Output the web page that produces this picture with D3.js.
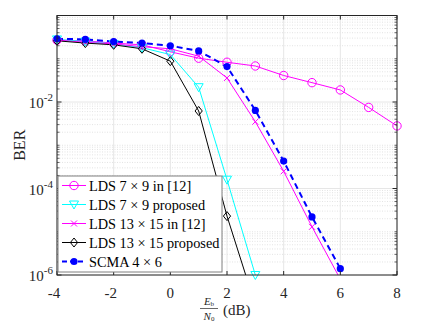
<!DOCTYPE html>
<html><head><meta charset="utf-8">
<script src="https://cdn.jsdelivr.net/npm/d3@7"></script>
<style>body{margin:0;background:#fff}svg{display:block}</style>
</head><body><svg id="c" width="440" height="323" font-family="'Liberation Serif', 'Times New Roman', Times, 'DejaVu Serif', serif"></svg>
<script>
const snr = [-4,-3,-2,-1,0,1,2,3,4,5,6,7,8];
const lds79ref = [0.27,0.26,0.23,0.21,0.145,0.103,0.083,0.068,0.041,0.028,0.019,0.0075,0.0028];
const snrB = [-4,-3,-2,-1,0,1,2,3];
const lds79prop = [0.28,0.25,0.22,0.18,0.125,0.022,1.6e-4,1.0e-6];
const snrC = [-4,-3,-2,-1,0,1,2,3,4,5,6];
const lds1315ref = [0.27,0.24,0.22,0.19,0.17,0.115,0.036,0.0035,2.5e-4,1.3e-5,8e-7];
const lds1315prop = [0.26,0.23,0.21,0.17,0.088,0.0062,2.3e-5,2e-7];
const scma46 = [0.29,0.28,0.25,0.23,0.2,0.152,0.066,0.0064,4.3e-4,2.2e-5,1.4e-6];
const xTicks = [-4,-2,0,2,4,6,8];
const yTicks = [1e-6,1e-4,1e-2];
const legendLabels = ["LDS 7 \u00d7 9 in [12]","LDS 7 \u00d7 9 proposed","LDS 13 \u00d7 15 in [12]","LDS 13 \u00d7 15 proposed","SCMA 4 \u00d7 6"];

const FF="'Liberation Serif', 'Times New Roman', Times, 'DejaVu Serif', serif";
const L=57,R=397,T=15.5,B=275;
const svg=d3.select("#c");
const x=d3.scaleLinear().domain([-4,8]).range([L,R]);
const y=d3.scaleLog().domain([1e-6,1]).range([B,T]);

// grid
const g=svg.append("g");
const minor=[];
for(let e=-6;e<0;e++){for(let k=2;k<=9;k++)minor.push(k*Math.pow(10,e));}
[1e-5,1e-3,1e-1].forEach(v=>minor.push(v));
g.selectAll(".mn").data(minor).enter().append("line")
 .attr("x1",L).attr("x2",R).attr("y1",d=>y(d)).attr("y2",d=>y(d))
 .attr("stroke","#d0d0d0").attr("stroke-width",0.6).attr("stroke-dasharray","1,1.5");
g.selectAll(".mj").data(yTicks).enter().append("line")
 .attr("x1",L).attr("x2",R).attr("y1",d=>y(d)).attr("y2",d=>y(d))
 .attr("stroke","#e6e6e6").attr("stroke-width",1);
g.selectAll(".vx").data(xTicks).enter().append("line")
 .attr("y1",T).attr("y2",B).attr("x1",d=>x(d)).attr("x2",d=>x(d))
 .attr("stroke","#e6e6e6").attr("stroke-width",1);

// clip
svg.append("clipPath").attr("id","clp").append("rect").attr("x",L).attr("y",T).attr("width",R-L).attr("height",B-T);
const plot=svg.append("g").attr("clip-path","url(#clp)");

const series=[
 {xs:snr,ys:lds79ref,c:"#ff00ff",m:"circle",w:1},
 {xs:snrB,ys:lds79prop,c:"#00ffff",m:"tri",w:1},
 {xs:snrC,ys:lds1315ref,c:"#ff00ff",m:"x",w:1},
 {xs:snrB,ys:lds1315prop,c:"#000000",m:"diamond",w:1},
 {xs:snrC,ys:scma46,c:"#0000ff",m:"dot",w:2,dash:"6,4"}
];
function marker(sel,m,c){
 if(m==="circle") sel.append("circle").attr("r",4.2).attr("fill","none").attr("stroke",c).attr("stroke-width",1);
 else if(m==="tri") sel.append("path").attr("d","M-4.5,-3.5L4.5,-3.5L0,4.5Z").attr("fill","none").attr("stroke",c).attr("stroke-width",1);
 else if(m==="x") sel.append("path").attr("d","M-3,-3L3,3M-3,3L3,-3").attr("stroke",c).attr("stroke-width",1);
 else if(m==="diamond") sel.append("path").attr("d","M0,-4.5L3.6,0L0,4.5L-3.6,0Z").attr("fill","none").attr("stroke",c).attr("stroke-width",1);
 else if(m==="dot") sel.append("circle").attr("r",3.6).attr("fill",c);
}
const line=d3.line().x(d=>x(d[0])).y(d=>y(d[1]));
series.forEach(s=>{
 const pts=s.xs.map((v,i)=>[v,s.ys[i]]).filter(d=>d[1]!==undefined);
 plot.append("path").datum(pts).attr("d",line).attr("fill","none").attr("stroke",s.c).attr("stroke-width",s.w).attr("stroke-dasharray",s.dash||null);
 pts.forEach(p=>{ if(p[1]>=9e-7){ const gg=svg.append("g").attr("transform",`translate(${x(p[0])},${y(p[1])})`); marker(gg,s.m,s.c);} });
});

// axes box & ticks
const ax=svg.append("g");
ax.append("rect").attr("x",L).attr("y",T).attr("width",R-L).attr("height",B-T).attr("fill","none").attr("stroke","#262626").attr("stroke-width",1);
xTicks.forEach(v=>{
 ax.append("line").attr("x1",x(v)).attr("x2",x(v)).attr("y1",B).attr("y2",B-4).attr("stroke","#262626");
 ax.append("line").attr("x1",x(v)).attr("x2",x(v)).attr("y1",T).attr("y2",T+4).attr("stroke","#262626");
 ax.append("text").attr("font-family",FF).attr("x",x(v)-(v<0?3:0)).attr("y",B+23).attr("text-anchor","middle").attr("font-size",15).attr("fill","#262626").text(v);
});
minor.forEach(v=>{
 ax.append("line").attr("x1",L).attr("x2",L+2.5).attr("y1",y(v)).attr("y2",y(v)).attr("stroke","#262626").attr("stroke-width",0.7);
 ax.append("line").attr("x1",R).attr("x2",R-2.5).attr("y1",y(v)).attr("y2",y(v)).attr("stroke","#262626").attr("stroke-width",0.7);
});
[1e-6,1e-4,1e-2,1].forEach(v=>{
 ax.append("line").attr("x1",L).attr("x2",L+4.5).attr("y1",y(v)).attr("y2",y(v)).attr("stroke","#262626");
 ax.append("line").attr("x1",R).attr("x2",R-4.5).attr("y1",y(v)).attr("y2",y(v)).attr("stroke","#262626");
});
yTicks.forEach(v=>{
 const t=ax.append("text").attr("font-family",FF).attr("x",L-4).attr("y",y(v)+6).attr("text-anchor","end").attr("font-size",15).attr("fill","#262626");
 t.append("tspan").text("10");
 t.append("tspan").attr("dy",-7).attr("font-size",11).text(String(Math.round(Math.log10(v))));
});
// labels
svg.append("text").attr("font-family",FF).attr("transform",`translate(25,${(T+B)/2}) rotate(-90)`).attr("text-anchor","middle").attr("font-size",16).attr("fill","#262626").text("BER");
const xl=svg.append("g").attr("fill","#262626");
const cx=209;
const t1=xl.append("text").attr("font-family",FF).attr("x",cx).attr("y",305).attr("text-anchor","middle").attr("font-size",11);
t1.append("tspan").attr("font-style","italic").text("E");
t1.append("tspan").attr("font-size",7).attr("dy",1).text("b");
xl.append("line").attr("x1",cx-9).attr("x2",cx+9).attr("y1",308.5).attr("y2",308.5).attr("stroke","#262626").attr("stroke-width",0.7);
const t2=xl.append("text").attr("font-family",FF).attr("x",cx).attr("y",319.5).attr("text-anchor","middle").attr("font-size",11);
t2.append("tspan").attr("font-style","italic").text("N");
t2.append("tspan").attr("font-size",7).attr("dy",1).text("0");
xl.append("text").attr("font-family",FF).attr("x",cx+14).attr("y",315).attr("font-size",15).text("(dB)");

// legend
const lg=svg.append("g");
const lx=58,ly=176,lw=164,lh=96;
lg.append("rect").attr("x",lx).attr("y",ly).attr("width",lw).attr("height",lh).attr("fill","#fff").attr("stroke","#7f7f7f").attr("stroke-width",1);
series.forEach((s,i)=>{
 const yy=ly+9.5+i*19;
 lg.append("line").attr("x1",lx+4).attr("x2",lx+28).attr("y1",yy).attr("y2",yy).attr("stroke",s.c).attr("stroke-width",s.w).attr("stroke-dasharray",s.dash?"5,3":null);
 const mg=lg.append("g").attr("transform",`translate(${lx+16},${yy})`);
 marker(mg,s.m,s.c);
 lg.append("text").attr("font-family",FF).attr("x",lx+31).attr("y",yy+5).attr("font-size",14.3).attr("fill","#000").text(legendLabels[i]);
});
</script></body></html>
